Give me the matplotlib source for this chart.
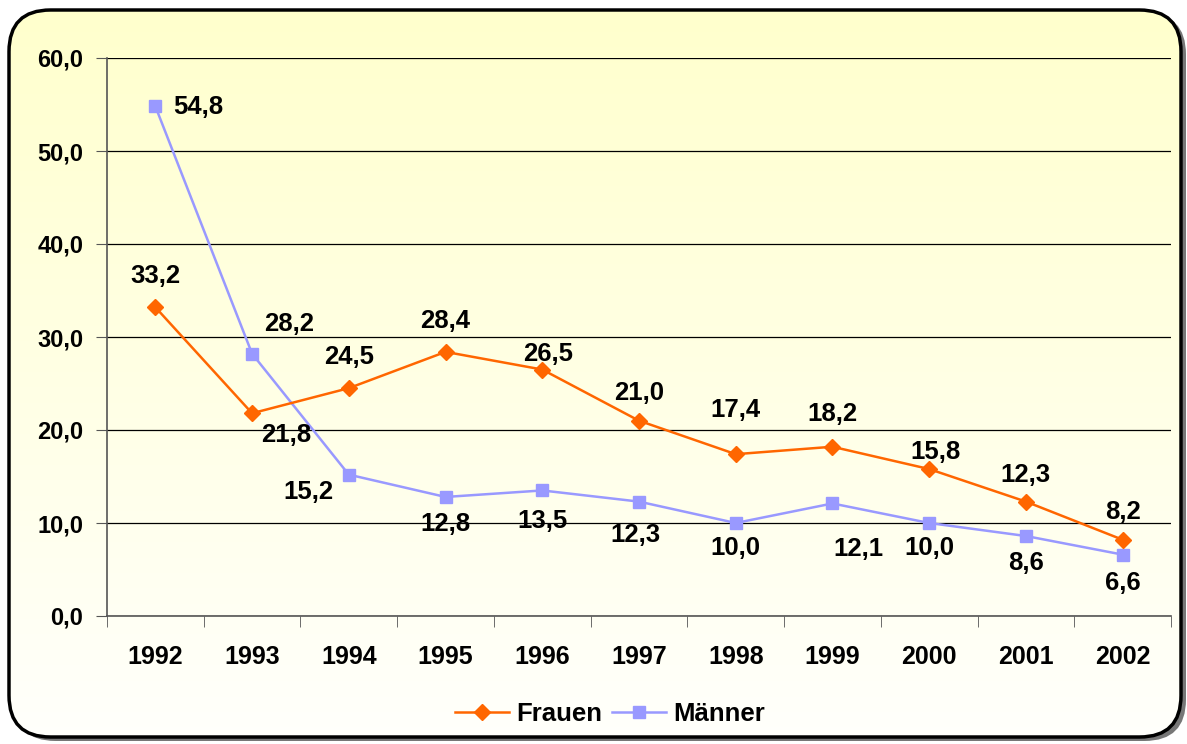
import numpy as np
import matplotlib.pyplot as plt
from matplotlib.patches import FancyBboxPatch

years = ['1992', '1993', '1994', '1995', '1996', '1997', '1998', '1999', '2000', '2001', '2002']
frauen = [33.2, 21.8, 24.5, 28.4, 26.5, 21.0, 17.4, 18.2, 15.8, 12.3, 8.2]
maenner = [54.8, 28.2, 15.2, 12.8, 13.5, 12.3, 10.0, 12.1, 10.0, 8.6, 6.6]

# label offsets in pixels (dx, dy) relative to the point
frauen_off = [(0, 31), (34, -22), (0, 31), (0, 31), (6, 16), (0, 28),
              (0, 44), (0, 33), (6, 17), (0, 27), (0, 28)]
maenner_off = [(43, -1), (37, 30), (-40, -17), (0, -27), (0, -31), (-4, -33),
               (0, -25), (26, -46), (0, -25), (0, -27), (0, -28)]

plt.rcParams['font.family'] = ['Liberation Sans', 'DejaVu Sans']
plt.rcParams['font.weight'] = 'bold'

fig = plt.figure(figsize=(11.87, 7.44), dpi=100)
W, H = 1187, 744


def rounded(x0, y0, w, h, **kw):
    return FancyBboxPatch((x0 / W, y0 / H), w / W, h / H,
                          boxstyle="round,pad=0,rounding_size=0.035",
                          transform=fig.transFigure, mutation_aspect=W / H, **kw)


# background axes: shadow, yellow-to-white gradient, rounded frame
bg = fig.add_axes([0, 0, 1, 1], zorder=-1)
bg.set_xlim(0, 1)
bg.set_ylim(0, 1)
bg.axis('off')
bg.add_patch(rounded(14, 3, 1172, 728, facecolor='#777777', edgecolor='none', zorder=0))
grad = np.linspace(0, 1, 256).reshape(-1, 1, 1)
top = np.array([255, 255, 204]) / 255
bot = np.array([255, 255, 252]) / 255
img = bot + (top - bot) * grad * np.ones((1, 2, 1))
im = bg.imshow(img, extent=[0, 1, 0, 1], origin='lower', aspect='auto', zorder=1)
clip = rounded(9, 7, 1172, 727, facecolor='none', edgecolor='none')
bg.add_patch(clip)
im.set_clip_path(clip)
bg.add_patch(rounded(9, 7, 1172, 727, facecolor='none', edgecolor='black',
                     linewidth=2.5, zorder=2))

ax = fig.add_axes([107 / W, 1 - 616 / H, (1171 - 107) / W, (616 - 58) / H])
ax.patch.set_alpha(0)

x = np.arange(len(years))
ax.plot(x, frauen, color='#FF6600', lw=1.8, marker='D', ms=8, label='Frauen', zorder=4)
ax.plot(x, maenner, color='#9999FF', lw=1.8, marker='s', ms=8, label='Männer', zorder=3)

for i, v in enumerate(frauen):
    ax.annotate(f"{v:.1f}".replace('.', ','), (x[i], v), xytext=frauen_off[i],
                textcoords='offset pixels', ha='center', va='center',
                fontsize=18.5, fontweight='bold', zorder=5)
for i, v in enumerate(maenner):
    ax.annotate(f"{v:.1f}".replace('.', ','), (x[i], v), xytext=maenner_off[i],
                textcoords='offset pixels', ha='center', va='center',
                fontsize=18.5, fontweight='bold', zorder=5)

ax.set_xlim(-0.5, len(years) - 0.5)
ax.set_ylim(0, 60)
ax.set_yticks(np.arange(0, 61, 10))
ax.set_yticklabels([f"{t:.1f}".replace('.', ',') for t in np.arange(0, 61, 10)])
ax.set_xticks(x)
ax.set_xticklabels(years)
ax.set_xticks(np.arange(-0.5, len(years)), minor=True)
ax.tick_params(axis='x', which='major', length=0, pad=21, labelsize=18)
ax.tick_params(axis='x', which='minor', length=8, color='#555555')
ax.tick_params(axis='y', length=8, pad=9, labelsize=17, color='#555555')
for lab in ax.get_xticklabels() + ax.get_yticklabels():
    lab.set_fontweight('bold')

ax.grid(axis='y', color='black', lw=0.9)
ax.set_axisbelow(True)
for s in ['top', 'right']:
    ax.spines[s].set_visible(False)
for s in ['left', 'bottom']:
    ax.spines[s].set_color('#555555')
    ax.spines[s].set_linewidth(1.2)

leg = fig.legend(loc='center', bbox_to_anchor=(610 / W, 1 - 714 / H), ncol=2,
                 frameon=False, prop={'size': 18.5, 'weight': 'bold'},
                 handlelength=2.1, columnspacing=0.35, handletextpad=0.3)

fig.savefig('out.png', dpi=100)
